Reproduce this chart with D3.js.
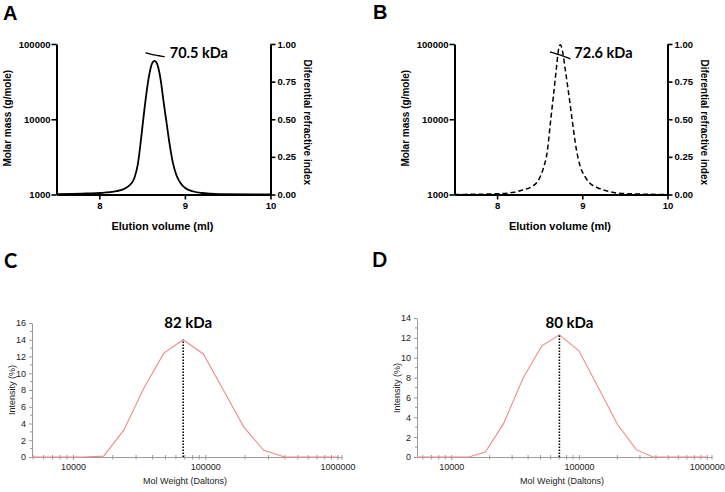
<!DOCTYPE html>
<html><head><meta charset="utf-8">
<script src="https://cdn.jsdelivr.net/npm/d3@7"></script>
<style>body{margin:0;background:#fff}svg{display:block}</style>
</head><body><svg id="chart" width="725" height="492"></svg>
<script>
// ---------- data ----------
const volumeTicks = [8, 9, 10];
const massTicks = [1000, 10000, 100000];
const riTicks = [0, 0.25, 0.5, 0.75, 1.0];

// Panel A: refractive index trace (solid)
const volA = [7.5, 7.8, 8.0, 8.2, 8.3, 8.36, 8.41, 8.45, 8.49, 8.53, 8.57, 8.6, 8.625, 8.645, 8.665, 8.69, 8.72, 8.75, 8.78, 8.82, 8.86, 8.9, 8.95, 9.0, 9.1, 9.2, 9.4, 10.0];
const riA  = [0.003, 0.006, 0.01, 0.022, 0.04, 0.065, 0.11, 0.2, 0.38, 0.58, 0.75, 0.84, 0.88, 0.888, 0.88, 0.84, 0.75, 0.62, 0.5, 0.34, 0.21, 0.13, 0.075, 0.045, 0.02, 0.01, 0.003, 0.0];
const mmVolA = [8.54, 8.58, 8.62, 8.66, 8.7, 8.735, 8.765];
const mmA    = [77000, 74500, 72500, 71000, 69800, 68700, 67800];
const labelA = "70.5 kDa";

// Panel B: refractive index trace (dashed)
const volB = [7.5, 8.0, 8.2, 8.3, 8.4, 8.48, 8.54, 8.59, 8.63, 8.66, 8.7, 8.72, 8.742, 8.765, 8.8, 8.85, 8.88, 8.93, 8.98, 9.03, 9.08, 9.18, 9.28, 9.4, 9.6, 10.0];
const riB  = [0.0, 0.005, 0.015, 0.03, 0.05, 0.09, 0.17, 0.29, 0.5, 0.65, 0.86, 0.96, 0.995, 0.96, 0.83, 0.63, 0.5, 0.3, 0.18, 0.12, 0.08, 0.045, 0.025, 0.01, 0.004, 0.0];
const mmVolB = [8.62, 8.68, 8.74, 8.8, 8.86];
const mmB    = [78500, 75000, 71500, 67500, 63500];
const labelB = "72.6 kDa";

// Panel C: intensity distribution
const mwC  = [4900, 12000, 17060, 24200, 34300, 48600, 68100, 96600, 138000, 195000, 276000, 398000, 1000000];
const intC = [0, 0, 0.1, 3.2, 8.2, 12.4, 14.0, 12.3, 7.9, 3.6, 0.8, 0, 0];
const peakC = 68100, labelC = "82 kDa";
const yTicksC = [0, 2, 4, 6, 8, 10, 12, 14, 16];

// Panel D: intensity distribution
const mwD  = [5400, 13700, 18500, 25700, 36400, 51200, 70300, 100000, 141600, 200000, 281000, 379000, 1000000];
const intD = [0, 0, 0.5, 3.36, 7.9, 11.2, 12.3, 10.7, 7.0, 3.3, 0.74, 0, 0];
const peakD = 70300, labelD = "80 kDa";
const yTicksD = [0, 2, 4, 6, 8, 10, 12, 14];

const mwMajorTicks = [10000, 100000, 1000000];

// ---------- drawing ----------
const svg = d3.select("#chart");
const boldSans = "'Liberation Sans', Arial, sans-serif";
const narrow = "'Liberation Sans Narrow', 'Arial Narrow', 'Liberation Sans', sans-serif";
const calib = "Lato, 'Open Sans', sans-serif";

function styleAxis(g, w) {
  g.select(".domain").attr("stroke", "#000").attr("stroke-width", w);
  g.selectAll(".tick line").attr("stroke", "#000").attr("stroke-width", 1.6);
  g.selectAll(".tick text").attr("font-family", boldSans).attr("font-weight", "bold")
    .attr("font-size", 9.5).attr("fill", "#000");
}

function secPanel(o) {
  const x = d3.scaleLinear().domain([7.5, 10]).range([o.l, o.r]);
  const yM = d3.scaleLog().domain([1000, 100000]).range([o.b, o.t]);
  const yR = d3.scaleLinear().domain([0, 1]).range([o.b, o.t]);
  const g = svg.append("g");

  const ax = g.append("g").attr("transform", `translate(0,${o.b})`)
    .call(d3.axisBottom(x).tickValues(volumeTicks).tickSize(5).tickSizeOuter(0).tickPadding(3).tickFormat(d3.format("d")));
  styleAxis(ax, 2);
  const ay = g.append("g").attr("transform", `translate(${o.l},0)`)
    .call(d3.axisLeft(yM).tickValues(massTicks).tickSize(5).tickSizeOuter(0).tickPadding(1).tickFormat(d3.format("d")));
  styleAxis(ay, 2);
  const ar = g.append("g").attr("transform", `translate(${o.r},0)`)
    .call(d3.axisRight(yR).tickValues(riTicks).tickSize(5).tickSizeOuter(0).tickPadding(2).tickFormat(d3.format(".2f")));
  styleAxis(ar, 2);

  g.append("path").datum(d3.zip(o.vol, o.ri))
    .attr("d", d3.line().x(d => x(d[0])).y(d => yR(d[1])).curve(d3.curveMonotoneX))
    .attr("fill", "none").attr("stroke", "#000").attr("stroke-width", o.dash ? 1.5 : 1.8)
    .attr("stroke-dasharray", o.dash || null);

  g.append("path").datum(d3.zip(o.mmVol, o.mm))
    .attr("d", d3.line().x(d => x(d[0])).y(d => yM(d[1])).curve(d3.curveMonotoneX))
    .attr("fill", "none").attr("stroke", "#000").attr("stroke-width", 1.3);

  g.append("text").attr("x", x(o.mmVol[o.mmVol.length - 1]) + o.labelDx).attr("y", 58)
    .attr("font-family", calib).attr("font-weight", "bold").attr("font-size", 14.5)
    .text(o.label);

  g.append("text").attr("transform", `translate(${o.l - 46},${(o.t + o.b) / 2 - 1}) rotate(-90)`)
    .attr("text-anchor", "middle").attr("font-family", boldSans).attr("font-weight", "bold")
    .attr("font-size", 10).text("Molar mass (g/mole)");
  g.append("text").attr("transform", `translate(${o.r + 33},${(o.t + o.b) / 2 + 3}) rotate(90)`)
    .attr("text-anchor", "middle").attr("font-family", boldSans).attr("font-weight", "bold")
    .attr("font-size", 10).text("Diferential refractive index");
  g.append("text").attr("x", (o.l + o.r) / 2 - 1).attr("y", 230)
    .attr("text-anchor", "middle").attr("font-family", boldSans).attr("font-weight", "bold")
    .attr("font-size", 11).text("Elution volume (ml)");
}

function dlsPanel(o) {
  const x = d3.scaleLog().domain(o.xd).range([o.l, o.r]);
  const y = d3.scaleLinear().domain([0, o.ymax]).range([457, o.t]);
  const g = svg.append("g");
  const axisColor = "#9a9a9a";

  // x axis
  const ax = g.append("g").attr("transform", "translate(0,457)")
    .call(d3.axisBottom(x).tickValues(mwMajorTicks).tickSize(3).tickSizeOuter(0).tickPadding(4).tickFormat(d3.format("d")));
  ax.select(".domain").attr("stroke", axisColor).attr("stroke-width", 1);
  ax.selectAll(".tick line").attr("stroke", axisColor).attr("y1", -2);
  ax.selectAll(".tick text").attr("font-family", narrow).attr("font-size", 9).attr("fill", "#222");
  // minor x ticks
  const minor = [];
  for (let e = 3; e <= 5; e++) for (let k = 2; k <= 9; k++) {
    const v = k * Math.pow(10, e);
    if (v >= o.xd[0] && v <= o.xd[1]) minor.push(v);
  }
  minor.push(o.xd[1]);
  g.selectAll(null).data(minor).join("line")
    .attr("x1", d => x(d)).attr("x2", d => x(d)).attr("y1", 455).attr("y2", 459.5)
    .attr("stroke", axisColor).attr("stroke-width", 1);

  // y axis
  const ay = g.append("g").attr("transform", `translate(${o.l},0)`)
    .call(d3.axisLeft(y).tickValues(o.yTicks).tickSize(3).tickSizeOuter(0).tickPadding(3).tickFormat(d3.format("d")));
  ay.select(".domain").attr("stroke", axisColor).attr("stroke-width", 1);
  ay.selectAll(".tick line").attr("stroke", axisColor);
  ay.selectAll(".tick text").attr("font-family", narrow).attr("font-size", 9).attr("fill", "#222");
  const minorY = o.yTicks.slice(0, -1).map(d => d + 1);
  g.selectAll(null).data(minorY).join("line")
    .attr("x1", o.l - 2).attr("x2", o.l).attr("y1", d => y(d)).attr("y2", d => y(d))
    .attr("stroke", axisColor).attr("stroke-width", 1);

  // distribution line
  g.append("path").datum(d3.zip(o.mw, o.int))
    .attr("d", d3.line().x(d => x(d[0])).y(d => y(d[1])))
    .attr("fill", "none").attr("stroke", "#f08a8a").attr("stroke-width", 1.1);

  // dotted peak marker
  const peakVal = o.int[o.mw.indexOf(o.peak)];
  g.append("line").attr("x1", x(o.peak)).attr("x2", x(o.peak))
    .attr("y1", y(0)).attr("y2", y(peakVal))
    .attr("stroke", "#000").attr("stroke-width", 1.6).attr("stroke-dasharray", "1.6,1.4");

  g.append("text").attr("x", x(o.peak) + o.labelDx).attr("y", 328)
    .attr("text-anchor", "middle").attr("font-family", calib).attr("font-weight", "bold")
    .attr("font-size", 15).text(o.label);

  g.append("text").attr("transform", `translate(${o.l - 17},${o.labelY}) rotate(-90)`)
    .attr("text-anchor", "middle").attr("font-family", narrow).attr("font-size", 9)
    .attr("fill", "#222").text("Intensity (%)");
  g.append("text").attr("x", o.titleX).attr("y", 484)
    .attr("text-anchor", "middle").attr("font-family", narrow).attr("font-size", 9)
    .attr("fill", "#222").text("Mol Weight (Daltons)");
}

secPanel({ l: 56.5, r: 270.5, t: 44, b: 194.5, vol: volA, ri: riA, mmVol: mmVolA, mm: mmA, label: labelA, labelDx: 5 });
secPanel({ l: 454.5, r: 667.5, t: 44, b: 194.5, vol: volB, ri: riB, mmVol: mmVolB, mm: mmB, label: labelB, labelDx: 4, dash: "5,3" });

dlsPanel({ l: 32, r: 342, t: 323, xd: [4900, 1080000], ymax: 16, yTicks: yTicksC, mw: mwC, int: intC, peak: peakC, label: labelC, labelDx: 5, labelY: 390, titleX: 185 });
dlsPanel({ l: 417, r: 712, t: 318, xd: [5400, 1100000], ymax: 14, yTicks: yTicksD, mw: mwD, int: intD, peak: peakD, label: labelD, labelDx: 10, labelY: 388, titleX: 562 });

// panel letters
const letters = [["A", 3, 20, boldSans], ["B", 373, 19, boldSans], ["C", 4, 268, calib], ["D", 372, 267, calib]];
svg.selectAll(null).data(letters).join("text")
  .attr("x", d => d[1]).attr("y", d => d[2]).attr("font-family", d => d[3])
  .attr("font-weight", "bold").attr("font-size", 20).text(d => d[0]);
</script>
</body></html>
